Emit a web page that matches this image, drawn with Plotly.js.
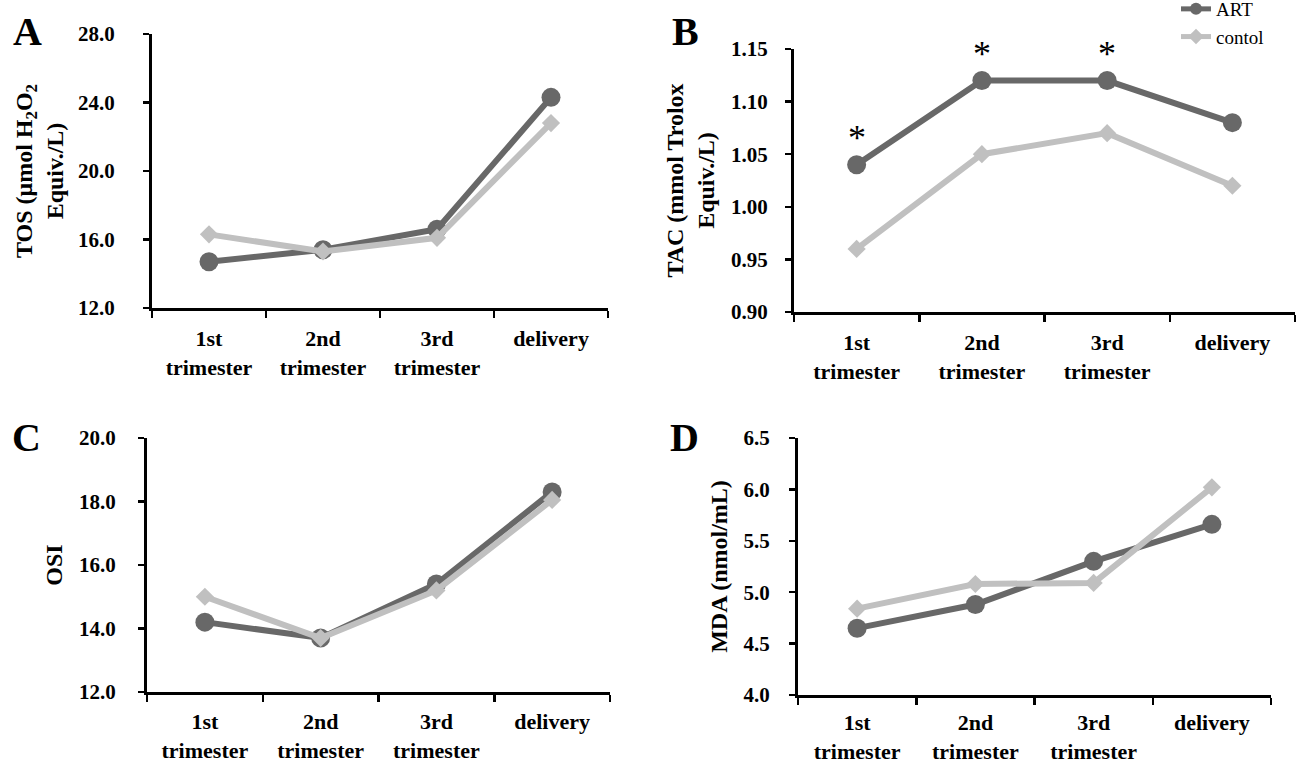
<!DOCTYPE html>
<html><head><meta charset="utf-8">
<script src="https://cdn.plot.ly/plotly-3.0.1.min.js"></script>
<style>html,body{margin:0;padding:0;background:#fff}#chart{width:1297px;height:768px}</style>
</head><body><div id="chart"></div>
<script>
const categories = ["1st<br>trimester", "2nd<br>trimester", "3rd<br>trimester", "delivery"];
const seriesNames = ["ART", "contol"];
const tosART = [14.7, 15.4, 16.6, 24.3];
const tosControl = [16.3, 15.3, 16.1, 22.8];
const tacART = [1.04, 1.12, 1.12, 1.08];
const tacControl = [0.96, 1.05, 1.07, 1.02];
const osiART = [14.2, 13.7, 15.4, 18.3];
const osiControl = [15.0, 13.7, 15.2, 18.05];
const mdaART = [4.65, 4.88, 5.30, 5.66];
const mdaControl = [4.84, 5.08, 5.09, 6.02];
const tacSignificant = [true, true, true, false];
const panelLetters = ["A", "B", "C", "D"];
const yTitles = [
  "TOS (μmol H<sub>2</sub>O<sub>2</sub><br>Equiv./L)",
  "TAC (mmol Trolox<br>Equiv./L)",
  "OSI",
  "MDA (nmol/mL)"
];
const yRanges = [[12, 28], [0.90, 1.15], [12, 20], [4.0, 6.5]];
const yDticks = [4, 0.05, 2, 0.5];
const yFormats = [".1f", ".2f", ".1f", ".1f"];

const SERIF = "Liberation Serif, 'Times New Roman', serif";
const ART_COLOR = "#686868";
const CTRL_COLOR = "#c0c0c0";

const W = 1297, H = 768;
const px = (a, b) => [a / W, b / W];
const py = (top, bottom) => [1 - bottom / H, 1 - top / H];

const panels = [
  { art: tosART, ctrl: tosControl, xd: px(152, 608), yd: py(34, 308), labStand: 24, titStand: 8, xStand: 9 },
  { art: tacART, ctrl: tacControl, xd: px(794, 1295), yd: py(49, 312), labStand: 13, titStand: 10, xStand: 9 },
  { art: osiART, ctrl: osiControl, xd: px(147, 610), yd: py(438, 692), labStand: 18, titStand: 10, xStand: 8 },
  { art: mdaART, ctrl: mdaControl, xd: px(798, 1271), yd: py(438, 695), labStand: 15, titStand: 10, xStand: 6 }
];

const data = [];
const layout = {
  width: W, height: H,
  margin: { l: 0, r: 0, t: 0, b: 0, autoexpand: false },
  paper_bgcolor: "#fff", plot_bgcolor: "#fff",
  font: { family: SERIF, color: "#000" },
  showlegend: true,
  legend: {
    x: 1176 / W, y: 1.013, xanchor: "left", yanchor: "top",
    font: { family: SERIF, size: 19, color: "#000" },
    bgcolor: "rgba(0,0,0,0)", tracegroupgap: 0, itemsizing: "constant"
  },
  annotations: []
};

panels.forEach((p, i) => {
  const sfx = i === 0 ? "" : String(i + 1);
  data.push({
    type: "scatter", mode: "lines+markers", name: seriesNames[0],
    x: categories, y: p.art, xaxis: "x" + sfx, yaxis: "y" + sfx,
    line: { color: ART_COLOR, width: 6 },
    marker: { symbol: "circle", size: 19, color: ART_COLOR },
    showlegend: i === 0, legendgroup: "art"
  });
  data.push({
    type: "scatter", mode: "lines+markers", name: seriesNames[1],
    x: categories, y: p.ctrl, xaxis: "x" + sfx, yaxis: "y" + sfx,
    line: { color: CTRL_COLOR, width: 6 },
    marker: { symbol: "diamond", size: 14, color: CTRL_COLOR },
    showlegend: i === 0, legendgroup: "ctrl"
  });
  layout["xaxis" + sfx] = {
    domain: p.xd, anchor: "y" + sfx, type: "category",
    categoryorder: "array", categoryarray: categories,
    range: [-0.5, 3.5], tickson: "boundaries",
    ticks: "outside", ticklen: 7, tickwidth: 2.5, tickcolor: "#000",
    showline: true, linecolor: "#000", linewidth: 3,
    showgrid: false, zeroline: false, fixedrange: true,
    ticklabelstandoff: p.xStand,
    tickfont: { family: SERIF, size: 22, color: "#000", weight: "bold" }
  };
  layout["yaxis" + sfx] = {
    domain: p.yd, anchor: "x" + sfx,
    range: yRanges[i], dtick: yDticks[i], tick0: yRanges[i][0], tickformat: yFormats[i],
    ticks: "outside", ticklen: 6, tickwidth: 2.5, tickcolor: "#000",
    showline: true, linecolor: "#000", linewidth: 3,
    showgrid: false, zeroline: false, fixedrange: true,
    ticklabelstandoff: p.labStand,
    tickfont: { family: SERIF, size: 21, color: "#000", weight: "bold" },
    title: { text: yTitles[i], font: { family: SERIF, size: 24, color: "#000", weight: "bold" }, standoff: p.titStand }
  };
  const letterPos = [[27, 32], [686, 32], [26, 437], [685, 437]][i];
  layout.annotations.push({
    xref: "paper", yref: "paper", x: letterPos[0] / W, y: 1 - letterPos[1] / H,
    xanchor: "center", yanchor: "middle", showarrow: false,
    text: panelLetters[i],
    font: { family: SERIF, size: 40, color: "#000", weight: "bold" }
  });
});

tacSignificant.forEach((sig, k) => {
  if (!sig) return;
  layout.annotations.push({
    xref: "x2", yref: "y2", x: categories[k], y: tacART[k],
    yanchor: "bottom", yshift: 5, showarrow: false, text: "*",
    font: { family: SERIF, size: 36, color: "#000" }
  });
});

Plotly.newPlot("chart", data, layout, { displayModeBar: false, staticPlot: true });
</script>
</body></html>
